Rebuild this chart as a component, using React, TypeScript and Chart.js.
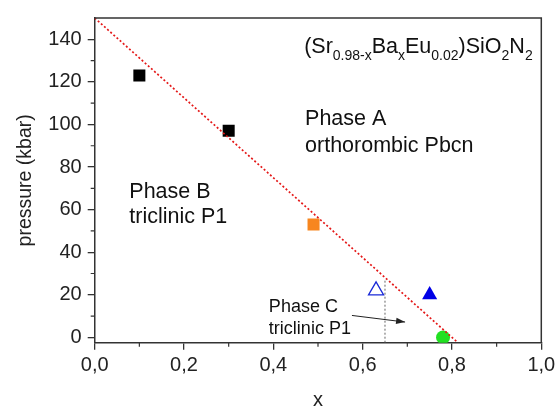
import React, { useEffect, useRef } from "react";
import { Chart, registerables } from "chart.js";

Chart.register(...registerables);

// ---- data ----
const phaseBX = [0.1, 0.3];
const phaseBY = [123, 97];
const orangeX = [0.49];
const orangeY = [53];
const openTriX = [0.63];
const openTriY = [22];
const filledTriX = [0.75];
const filledTriY = [20];
const greenX = [0.78];
const greenY = [0];
const boundaryX = [0, 0.8133];
const boundaryY = [150, -2.5];
const phaseCLineX = [0.65, 0.65];
const phaseCLineY = [-2.5, 27.5];
const arrowFrom = [0.576, 10.3];
const arrowTo = [0.695, 7.2];

const xTicks = [0, 0.2, 0.4, 0.6, 0.8, 1.0];
const xMinor = [0.1, 0.3, 0.5, 0.7, 0.9];
const yTicks = [0, 20, 40, 60, 80, 100, 120, 140];
const yMinor = [10, 30, 50, 70, 90, 110, 130];

const labels = [
  { text: "Phase A", x: 0.471, y: 99.6, size: 21.5 },
  { text: "orthorombic Pbcn", x: 0.471, y: 87.2, size: 21.5 },
  { text: "Phase B", x: 0.0775, y: 65.4, size: 21.5 },
  { text: "triclinic P1", x: 0.0775, y: 53.8, size: 21.5 },
  { text: "Phase C", x: 0.39, y: 11.9, size: 18 },
  { text: "triclinic P1", x: 0.39, y: 1.5, size: 18 },
];

// formula segments: [text, isSubscript]
const formula: [string, boolean][] = [
  ["(Sr", false],
  ["0.98-x", true],
  ["Ba", false],
  ["x", true],
  ["Eu", false],
  ["0.02", true],
  [")SiO", false],
  ["2", true],
  ["N", false],
  ["2", true],
];
const formulaPos = { x: 0.469, y: 133.7 };

const FONT = "'Liberation Sans', Arial, sans-serif";
const AXIS = "#333333";

const toPts = (xs: number[], ys: number[]) => xs.map((x, i) => ({ x, y: ys[i] }));

const decorPlugin = {
  id: "decor",
  afterDatasetsDraw(chart: any) {
    const { ctx, chartArea, scales } = chart;
    const xs = scales.x;
    const ys = scales.y;
    ctx.save();
    // frame
    ctx.strokeStyle = AXIS;
    ctx.lineWidth = 1.5;
    ctx.beginPath();
    ctx.moveTo(chartArea.left, chartArea.top);
    ctx.lineTo(chartArea.right, chartArea.top);
    ctx.lineTo(chartArea.right, chartArea.bottom);
    ctx.stroke();
    // minor ticks
    ctx.lineWidth = 1.2;
    ctx.beginPath();
    xMinor.forEach((v) => {
      const px = xs.getPixelForValue(v);
      ctx.moveTo(px, chartArea.bottom);
      ctx.lineTo(px, chartArea.bottom + 4);
    });
    yMinor.forEach((v) => {
      const py = ys.getPixelForValue(v);
      ctx.moveTo(chartArea.left, py);
      ctx.lineTo(chartArea.left - 4, py);
    });
    ctx.stroke();

    // arrow
    const ax1 = xs.getPixelForValue(arrowFrom[0]);
    const ay1 = ys.getPixelForValue(arrowFrom[1]);
    const ax2 = xs.getPixelForValue(arrowTo[0]);
    const ay2 = ys.getPixelForValue(arrowTo[1]);
    ctx.strokeStyle = "#222";
    ctx.fillStyle = "#222";
    ctx.lineWidth = 1;
    ctx.beginPath();
    ctx.moveTo(ax1, ay1);
    ctx.lineTo(ax2, ay2);
    ctx.stroke();
    const ang = Math.atan2(ay2 - ay1, ax2 - ax1);
    const hl = 9;
    const hw = 3.2;
    ctx.beginPath();
    ctx.moveTo(ax2, ay2);
    ctx.lineTo(
      ax2 - hl * Math.cos(ang) + hw * Math.sin(ang),
      ay2 - hl * Math.sin(ang) - hw * Math.cos(ang)
    );
    ctx.lineTo(
      ax2 - hl * Math.cos(ang) - hw * Math.sin(ang),
      ay2 - hl * Math.sin(ang) + hw * Math.cos(ang)
    );
    ctx.closePath();
    ctx.fill();

    // labels
    ctx.fillStyle = "#111";
    ctx.textBaseline = "alphabetic";
    ctx.textAlign = "left";
    labels.forEach((l) => {
      ctx.font = `${l.size}px ${FONT}`;
      ctx.fillText(l.text, xs.getPixelForValue(l.x), ys.getPixelForValue(l.y));
    });

    // formula
    let fx = xs.getPixelForValue(formulaPos.x);
    const fy = ys.getPixelForValue(formulaPos.y);
    formula.forEach(([t, sub]) => {
      ctx.font = `${sub ? 14 : 21.5}px ${FONT}`;
      ctx.fillText(t, fx, sub ? fy + 7.5 : fy);
      fx += ctx.measureText(t).width;
    });
    ctx.restore();
  },
};

export default function App() {
  const ref = useRef<HTMLCanvasElement | null>(null);
  useEffect(() => {
    if (!ref.current) return;
    const chart = new Chart(ref.current, {
      type: "scatter",
      data: {
        datasets: [
          {
            type: "line",
            data: toPts(boundaryX, boundaryY),
            borderColor: "#e41818",
            borderWidth: 1.7,
            borderDash: [2, 2.2],
            pointRadius: 0,
            fill: false,
          } as any,
          {
            type: "line",
            data: toPts(phaseCLineX, phaseCLineY),
            borderColor: "#666",
            borderWidth: 1,
            borderDash: [2, 2],
            pointRadius: 0,
            fill: false,
          } as any,
          {
            data: toPts(phaseBX, phaseBY),
            pointStyle: "rect",
            pointRadius: 8.5,
            backgroundColor: "#000",
            borderColor: "#000",
            borderWidth: 0,
          },
          {
            data: toPts(orangeX, orangeY),
            pointStyle: "rect",
            pointRadius: 8.5,
            backgroundColor: "#f7861f",
            borderColor: "#f7861f",
            borderWidth: 0,
          },
          {
            data: toPts(openTriX, openTriY),
            pointStyle: "triangle",
            pointRadius: 8.7,
            backgroundColor: "#ffffff",
            borderColor: "#1a2ad8",
            borderWidth: 1.3,
          },
          {
            data: toPts(filledTriX, filledTriY),
            pointStyle: "triangle",
            pointRadius: 8.7,
            backgroundColor: "#0000e6",
            borderColor: "#0000e6",
            borderWidth: 0,
          },
          {
            data: toPts(greenX, greenY),
            pointStyle: "circle",
            pointRadius: 7,
            backgroundColor: "#22e022",
            borderColor: "#22e022",
            borderWidth: 0,
          },
        ],
      },
      options: {
        animation: false,
        responsive: false,
        maintainAspectRatio: false,
        events: [],
        layout: { padding: { left: 0, top: 15, right: 18.7, bottom: 0 } },
        plugins: { legend: { display: false }, tooltip: { enabled: false } },
        scales: {
          x: {
            type: "linear",
            min: 0,
            max: 1,
            afterBuildTicks: (s: any) => {
              s.ticks = xTicks.map((v) => ({ value: v }));
            },
            afterFit: (s: any) => {
              s.height = 67.3;
            },
            grid: {
              drawOnChartArea: false,
              drawTicks: true,
              tickLength: 7,
              color: AXIS,
              lineWidth: 1.3,
            },
            border: { display: true, color: AXIS, width: 1.5 },
            ticks: {
              padding: 4,
              color: "#222",
              font: { family: FONT, size: 20 },
              maxRotation: 0,
              callback: (v: any) => Number(v).toFixed(1).replace(".", ","),
            },
            title: {
              display: true,
              text: "x",
              color: "#222",
              font: { family: FONT, size: 20, lineHeight: 1 },
              padding: 0,
            },
          },
          y: {
            type: "linear",
            min: -2.5,
            max: 150,
            afterBuildTicks: (s: any) => {
              s.ticks = yTicks.map((v) => ({ value: v }));
            },
            afterFit: (s: any) => {
              s.width = 94.7;
            },
            grid: {
              drawOnChartArea: false,
              drawTicks: true,
              tickLength: 7,
              color: AXIS,
              lineWidth: 1.3,
            },
            border: { display: true, color: AXIS, width: 1.5 },
            ticks: {
              padding: 6,
              color: "#222",
              font: { family: FONT, size: 20 },
              callback: (v: any) => String(v),
            },
            title: {
              display: true,
              text: "pressure (kbar)",
              color: "#222",
              font: { family: FONT, size: 19.5, lineHeight: 1 },
              padding: { top: 16, bottom: 0 },
            },
          },
        },
      },
      plugins: [decorPlugin],
    });
    return () => chart.destroy();
  }, []);
  return (
    <div style={{ position: "absolute", left: 0, top: 0, width: 560, height: 410, background: "#fff" }}>
      <canvas ref={ref} width={560} height={410} style={{ width: 560, height: 410 }} />
    </div>
  );
}
